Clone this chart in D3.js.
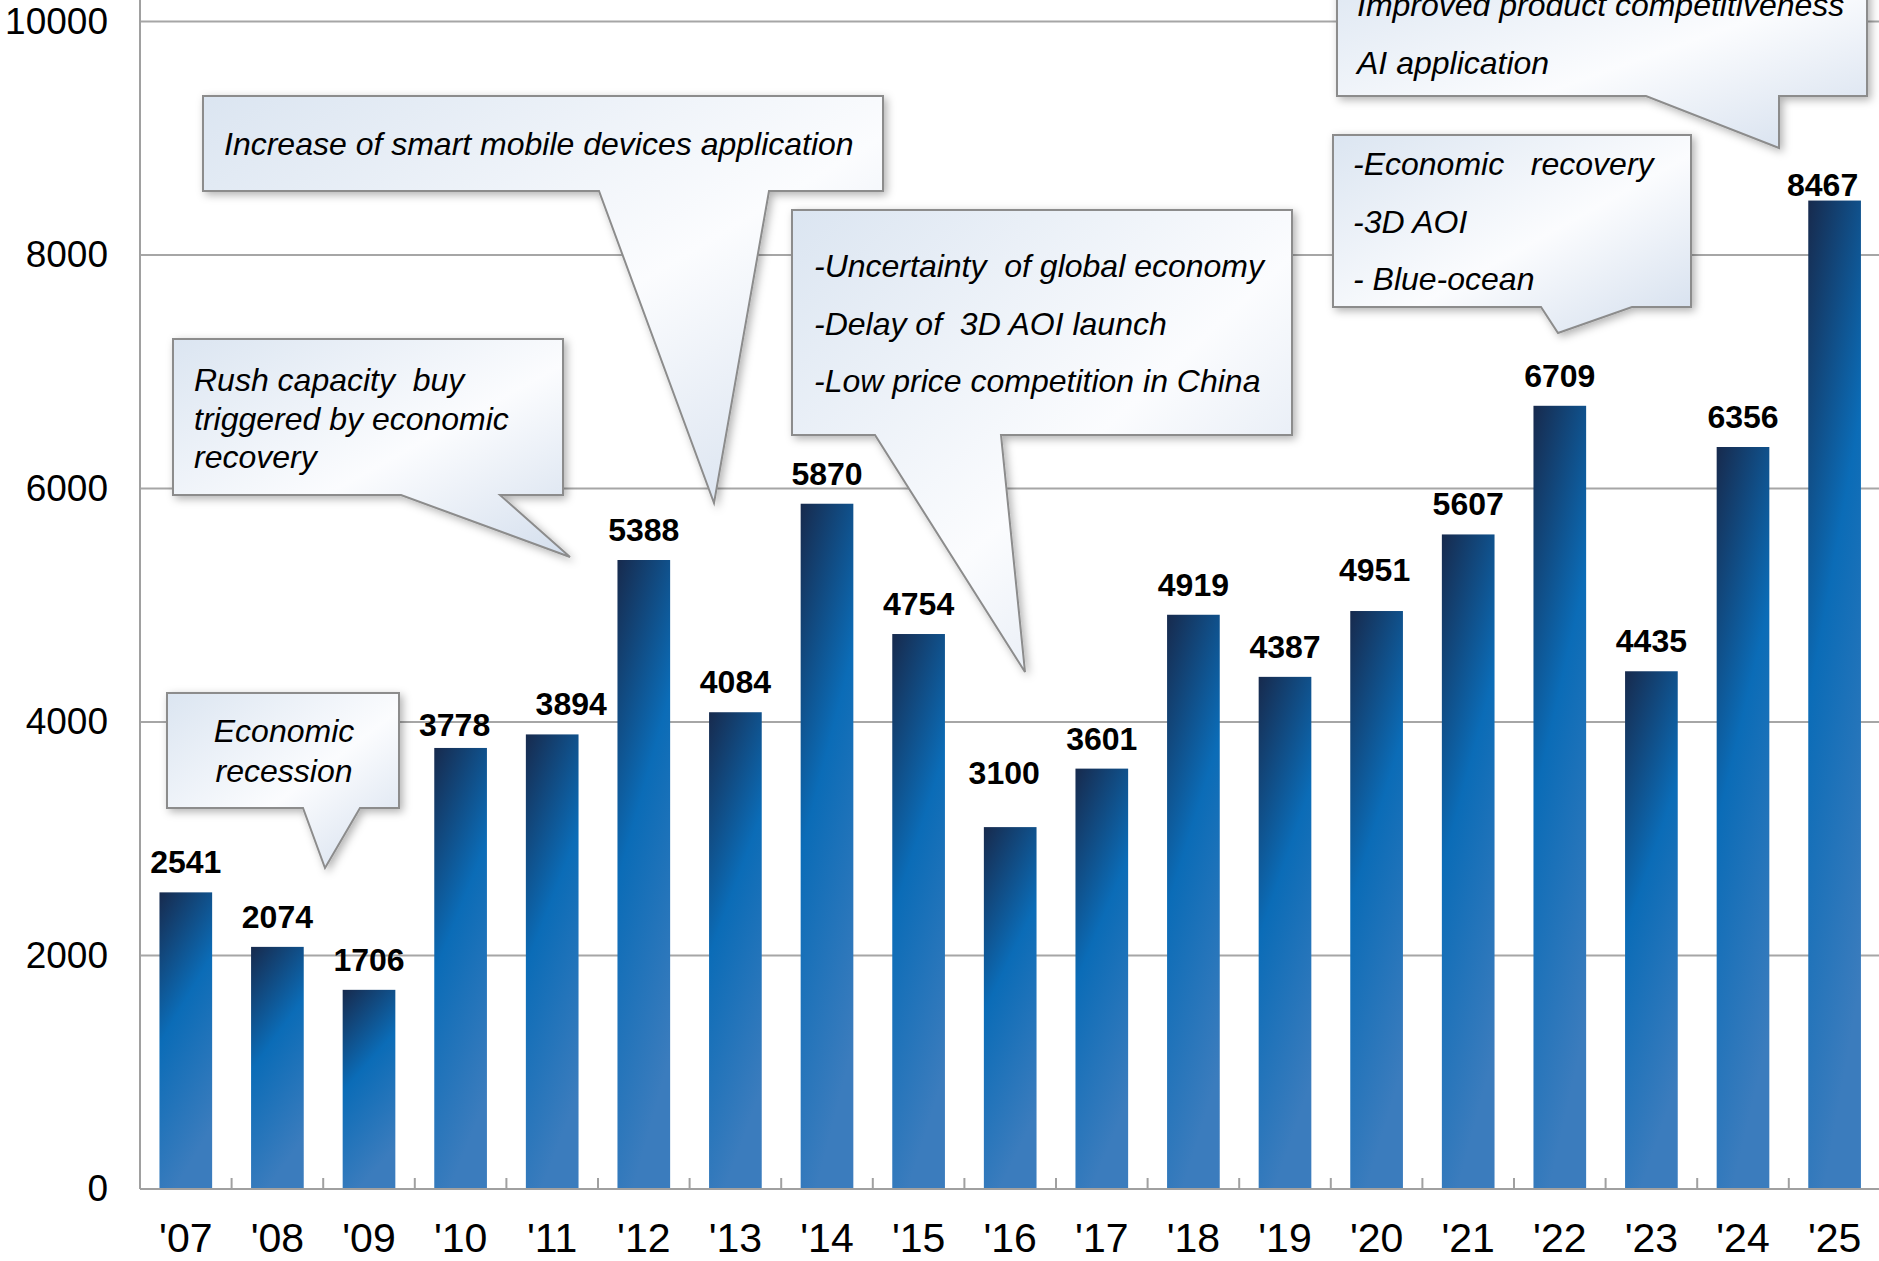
<!DOCTYPE html>
<html>
<head>
<meta charset="utf-8">
<script src="https://cdn.jsdelivr.net/npm/d3@7"></script>
<style>
  html, body { margin: 0; padding: 0; background: #ffffff; }
  svg { display: block; font-family: "Liberation Sans", Arial, sans-serif; }
</style>
</head>
<body>
<div id="chart"></div>
<script>
// data
const years  = ["'07", "'08", "'09", "'10", "'11", "'12", "'13", "'14", "'15", "'16",
                "'17", "'18", "'19", "'20", "'21", "'22", "'23", "'24", "'25"];
const values = [2541, 2074, 1706, 3778, 3894, 5388, 4084, 5870, 4754, 3100,
                3601, 4919, 4387, 4951, 5607, 6709, 4435, 6356, 8467];
const yTicks = [0, 2000, 4000, 6000, 8000, 10000];

// callout texts
const noteRecession = ["Economic", "recession"];
const noteRush      = ["Rush capacity  buy", "triggered by economic", "recovery"];
const noteMobile    = ["Increase of smart mobile devices application"];
const noteUncertain = ["-Uncertainty  of global economy", "-Delay of  3D AOI launch", "-Low price competition in China"];
const noteRecovery  = ["-Economic   recovery", "-3D AOI", "- Blue-ocean"];
const noteAI        = ["Improved product competitiveness", "AI application"];

const width = 1879, height = 1261;
const left = 140, baseY = 1189, topY = 21.6;

// a few data labels were dragged by hand in the original (px nudges)
const labelNudge = { "'10": [-6, 7], "'11": [19, 0], "'16": [-6, -24], "'20": [-2, -11], "'25": [-12, 14] };

const svg = d3.select("#chart").append("svg")
    .attr("width", width)
    .attr("height", height);

const defs = svg.append("defs");

// bar gradient: navy top -> bright blue -> steel blue
const barGrad = defs.append("linearGradient")
    .attr("id", "barGrad")
    .attr("x1", "0").attr("y1", "0")
    .attr("x2", "0.3").attr("y2", "1");
barGrad.append("stop").attr("offset", "0%").attr("stop-color", "#172a4d");
barGrad.append("stop").attr("offset", "47%").attr("stop-color", "#0b6cb7");
barGrad.append("stop").attr("offset", "100%").attr("stop-color", "#3b7cbd");

// callout fill
const boxGrad = defs.append("linearGradient")
    .attr("id", "boxGrad")
    .attr("x1", "0").attr("y1", "0")
    .attr("x2", "1").attr("y2", "1");
boxGrad.append("stop").attr("offset", "0%").attr("stop-color", "#dbe5f1");
boxGrad.append("stop").attr("offset", "55%").attr("stop-color", "#fbfcfe");
boxGrad.append("stop").attr("offset", "100%").attr("stop-color", "#d3deed");

const shadow = defs.append("filter")
    .attr("id", "shadow")
    .attr("x", "-10%").attr("y", "-10%")
    .attr("width", "130%").attr("height", "130%");
shadow.append("feDropShadow")
    .attr("dx", 3).attr("dy", 3)
    .attr("stdDeviation", 4)
    .attr("flood-color", "#000")
    .attr("flood-opacity", 0.3);

// scales
const x = d3.scaleBand()
    .domain(years)
    .range([left, left + 91.6 * years.length])
    .paddingInner(0.425)
    .paddingOuter(0.2125);

const y = d3.scaleLinear()
    .domain([0, 10000])
    .range([baseY, topY]);

// grid lines
svg.append("g")
    .selectAll("line")
    .data(yTicks.filter(d => d > 0))
    .enter()
    .append("line")
    .attr("x1", left).attr("x2", width)
    .attr("y1", d => y(d)).attr("y2", d => y(d))
    .attr("stroke", "#a6a6a6")
    .attr("stroke-width", 2);

// y axis labels
const yAxis = d3.axisLeft(y)
    .tickValues(yTicks)
    .tickSize(0)
    .tickPadding(32)
    .tickFormat(d3.format("d"));

const yg = svg.append("g")
    .attr("transform", `translate(${left},0)`)
    .call(yAxis);
yg.select(".domain").remove();
yg.selectAll("text")
    .attr("font-family", "'Liberation Sans', Arial, sans-serif")
    .attr("font-size", "37px")
    .attr("fill", "#000");

// bars
svg.append("g")
    .selectAll("rect")
    .data(values)
    .enter()
    .append("rect")
    .attr("x", (d, i) => x(years[i]))
    .attr("y", d => y(d))
    .attr("width", x.bandwidth())
    .attr("height", d => baseY - y(d))
    .attr("fill", "url(#barGrad)");

// value labels
const nudge = i => labelNudge[years[i]] || [0, 0];
svg.append("g")
    .selectAll("text")
    .data(values)
    .enter()
    .append("text")
    .attr("x", (d, i) => x(years[i]) + x.bandwidth() / 2 + nudge(i)[0])
    .attr("y", (d, i) => y(d) - 19 + nudge(i)[1])
    .attr("text-anchor", "middle")
    .attr("font-size", "32px")
    .attr("font-weight", "bold")
    .attr("fill", "#000")
    .text(d => d);

// axis lines
svg.append("line")
    .attr("x1", left).attr("x2", left)
    .attr("y1", 0).attr("y2", baseY)
    .attr("stroke", "#a0a0a0").attr("stroke-width", 2);

const xAxis = d3.axisBottom(x).tickSize(0).tickPadding(34);
const xg = svg.append("g")
    .attr("transform", `translate(0,${baseY})`)
    .call(xAxis);
xg.select(".domain")
    .attr("d", `M${left},0H${width}`)
    .attr("stroke", "#a0a0a0")
    .attr("stroke-width", 2);
xg.selectAll("text")
    .attr("font-family", "'Liberation Sans', Arial, sans-serif")
    .attr("font-size", "41px")
    .attr("fill", "#000");

// small tick marks between categories
svg.append("g")
    .selectAll("line")
    .data(years.slice(1))
    .enter()
    .append("line")
    .attr("x1", d => x(d) - x.step() * x.paddingInner() / 2)
    .attr("x2", d => x(d) - x.step() * x.paddingInner() / 2)
    .attr("y1", baseY - 11)
    .attr("y2", baseY)
    .attr("stroke", "#a0a0a0")
    .attr("stroke-width", 2);

// callouts
function callout(box, ptr, lines, textX, firstBase, lineGap, anchor) {
    const [x0, y0, x1, y1] = box;
    const [bl, br, tx, ty] = ptr;
    const path = `M${x0},${y0}H${x1}V${y1}H${br}L${tx},${ty}L${bl},${y1}H${x0}Z`;
    const g = svg.append("g");
    g.append("path")
        .attr("d", path)
        .attr("fill", "url(#boxGrad)")
        .attr("stroke", "#8c8c8c")
        .attr("stroke-width", 2)
        .attr("filter", "url(#shadow)");
    g.selectAll("text")
        .data(lines)
        .enter()
        .append("text")
        .attr("x", textX)
        .attr("y", (d, i) => firstBase + i * lineGap)
        .attr("text-anchor", anchor || "start")
        .attr("font-size", "32px")
        .attr("font-style", "italic")
        .attr("fill", "#000")
        .style("white-space", "pre")
        .text(d => d);
}

callout([173, 339, 563, 495], [401, 500, 570, 557], noteRush, 194, 391, 38.5);
callout([167, 693, 399, 808], [303, 360, 325, 868], noteRecession, 284, 742, 39.5, "middle");
callout([203, 96, 883, 191], [599, 769, 714, 503], noteMobile, 224, 155, 0);
callout([792, 210, 1292, 435], [875, 1001, 1025, 672], noteUncertain, 814, 277, 57.5);
callout([1333, 135, 1691, 307], [1541, 1632, 1558, 333], noteRecovery, 1353, 175, 57.5);
callout([1337, -40, 1867, 96], [1646, 1779, 1779, 148], noteAI, 1357, 16, 57.5);
</script>
</body>
</html>
